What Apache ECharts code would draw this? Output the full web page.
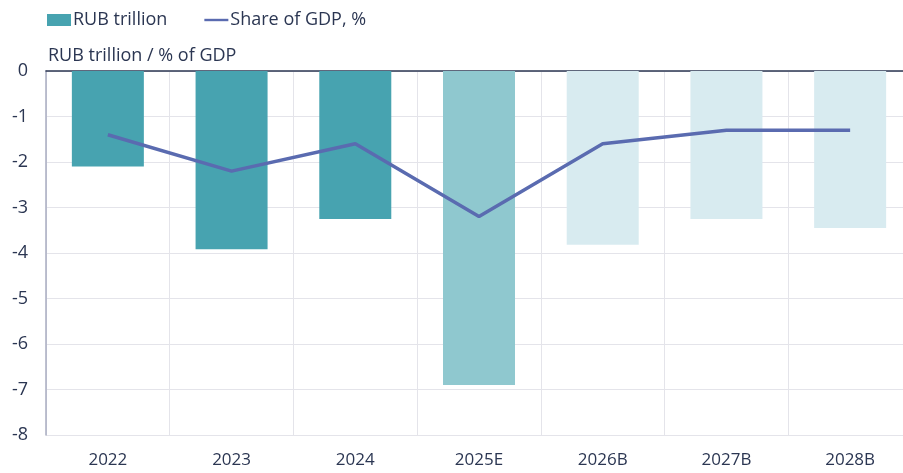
<!DOCTYPE html>
<html>
<head>
<meta charset="utf-8">
<script src="https://cdn.jsdelivr.net/npm/echarts@6/dist/echarts.min.js"></script>
<style>
  html, body { margin: 0; padding: 0; background: #fff; }
  #main { width: 903px; height: 473px; }
</style>
</head>
<body>
<div id="main"></div>
<script>
var years = ['2022', '2023', '2024', '2025E', '2026B', '2027B', '2028B'];
var rubTrillion = [-2.1, -3.92, -3.25, -6.9, -3.82, -3.25, -3.45];
var shareGdp = [-1.4, -2.2, -1.6, -3.2, -1.6, -1.3, -1.3];
var barColors = ['#47a3b0', '#47a3b0', '#47a3b0', '#8fc8cf', '#d8ebf0', '#d8ebf0', '#d8ebf0'];

var textColor = '#2b3652';
var font = 'Open Sans';

var chart = echarts.init(document.getElementById('main'));

var barData = [];
for (var i = 0; i < rubTrillion.length; i++) {
	barData.push({ value: rubTrillion[i], itemStyle: { color: barColors[i] } });
}

var option = {
	animation: false,
	textStyle: { fontFamily: font, color: textColor },
	legend: {
		left: 42,
		top: 6,
		itemGap: 37,
		itemWidth: 24,
		itemHeight: 12,
		textStyle: { fontFamily: font, fontSize: 18, color: textColor, padding: [0, 0, 0, -3] },
		data: [
			{ name: 'RUB trillion', icon: 'rect', itemStyle: { color: '#47a3b0' } },
			{ name: 'Share of GDP, %', icon: 'path://M0,0 L30,0 L30,3 L0,3 Z', itemStyle: { color: '#5a6bb0' } }
		]
	},
	// grid runs a little past the right edge, as in the reference
	grid: { left: 46, width: 866, top: 71, bottom: 38, outerBoundsMode: 'none', containLabel: false },
	xAxis: [
		{
			type: 'category',
			data: years,
			position: 'bottom',
			axisLine: { show: false },
			axisTick: { show: false },
			axisLabel: { fontSize: 17, color: textColor, margin: 17, fontFamily: font },
			splitLine: { show: true, lineStyle: { color: '#e4e4ea', width: 1 } }
		},
		{
			type: 'category',
			data: years,
			position: 'top',
			axisLine: { show: true, lineStyle: { color: '#2b3652', width: 1.5 } },
			axisTick: { show: false },
			axisLabel: { show: false }
		}
	],
	yAxis: {
		type: 'value',
		min: -8,
		max: 0,
		interval: 1,
		name: 'RUB trillion / % of GDP',
		nameLocation: 'end',
		nameGap: 6,
		nameTextStyle: { fontSize: 18, color: textColor, align: 'left', padding: [0, 0, 0, 2], fontFamily: font },
		axisLine: { show: true, lineStyle: { color: '#a9adc0', width: 1.5 } },
		axisTick: { show: false },
		axisLabel: { fontSize: 18, color: textColor, margin: 18, fontFamily: font },
		splitLine: { show: true, lineStyle: { color: '#e4e4ea', width: 1 } }
	},
	series: [
		{
			name: 'RUB trillion',
			type: 'bar',
			barWidth: 72,
			itemStyle: { color: '#47a3b0' },
			data: barData
		},
		{
			name: 'Share of GDP, %',
			type: 'line',
			symbol: 'none',
			lineStyle: { color: '#5a6bb0', width: 3.5 },
			itemStyle: { color: '#5a6bb0' },
			data: shareGdp
		}
	]
};

chart.setOption(option);
</script>
</body>
</html>
